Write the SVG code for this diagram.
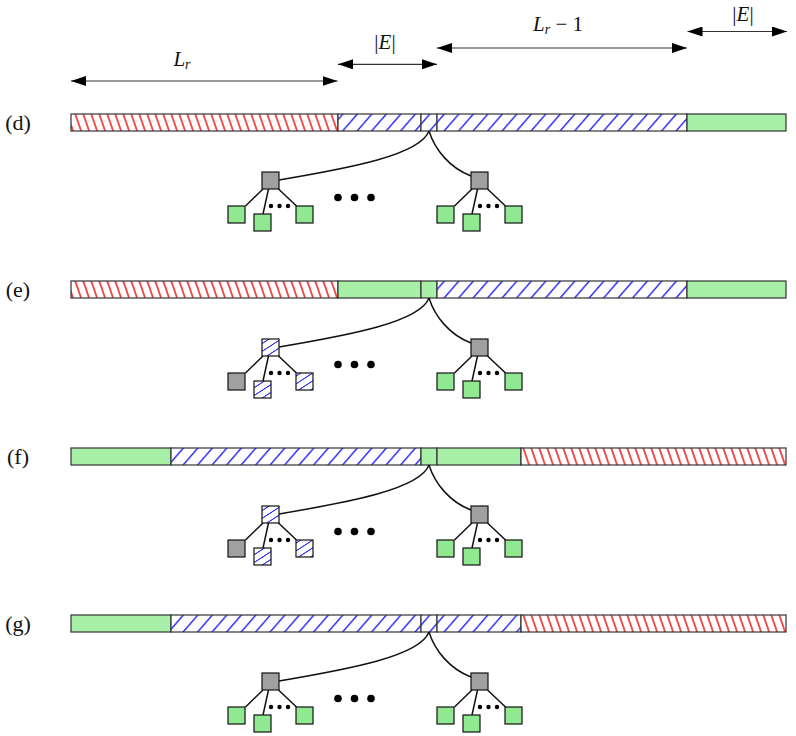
<svg xmlns="http://www.w3.org/2000/svg" width="796" height="736" viewBox="0 0 796 736">
<style>
text{font-family:"Liberation Serif","Times New Roman",serif;font-size:21px;fill:#111}
.lbl{font-size:22px}
.it{font-style:italic}
.seg{stroke:#333;stroke-width:1.2}
.g{fill:#a8f0a8}
.nd{stroke:#111;stroke-width:1.2}
.ng{fill:#90e890}
.ngr{fill:#a0a0a0}
.edge{fill:none;stroke:#111;stroke-width:1.5}
.dim{stroke:#333;stroke-width:1.2;fill:none}
</style>
<defs>
<pattern id="red" patternUnits="userSpaceOnUse" width="8" height="20" patternTransform="skewX(19)">
<rect width="8" height="20" fill="#fff"/>
<line x1="4" y1="0" x2="4" y2="20" stroke="#f53535" stroke-width="1.8"/>
</pattern>
<pattern id="blue" patternUnits="userSpaceOnUse" width="14.5" height="20" patternTransform="skewX(-41)">
<rect width="14.5" height="20" fill="#fff"/>
<line x1="7" y1="0" x2="7" y2="20" stroke="#3232f5" stroke-width="2"/>
</pattern>
<pattern id="nblue" patternUnits="userSpaceOnUse" width="12" height="20" patternTransform="skewX(-57)">
<rect width="12" height="20" fill="#fff"/>
<line x1="6" y1="0" x2="6" y2="20" stroke="#3232f5" stroke-width="2"/>
</pattern>
<marker id="ah" viewBox="0 0 15 10" refX="15" refY="5" markerWidth="15" markerHeight="10" markerUnits="userSpaceOnUse" orient="auto-start-reverse">
<path d="M0,0 L15,5 L0,10 Z" fill="#000"/>
</marker>
</defs>

<g id="dimensions">
<line class="dim" x1="71" y1="81" x2="337.5" y2="81" marker-start="url(#ah)" marker-end="url(#ah)"/>
<text x="182" y="66" text-anchor="middle"><tspan class="it">L</tspan><tspan class="it" font-size="14" dy="3">r</tspan></text>
<line class="dim" x1="338" y1="64.3" x2="437" y2="64.3" marker-start="url(#ah)" marker-end="url(#ah)"/>
<text x="385" y="49" text-anchor="middle">|<tspan class="it">E</tspan>|</text>
<line class="dim" x1="437" y1="48" x2="687" y2="48" marker-start="url(#ah)" marker-end="url(#ah)"/>
<text x="558" y="31" text-anchor="middle"><tspan class="it">L</tspan><tspan class="it" font-size="14" dy="3">r</tspan><tspan dy="-3"> − 1</tspan></text>
<line class="dim" x1="687.5" y1="31.5" x2="787" y2="31.5" marker-start="url(#ah)" marker-end="url(#ah)"/>
<text x="743" y="20.5" text-anchor="middle">|<tspan class="it">E</tspan>|</text>
</g>

<!-- panel (d) -->
<g id="panel-d">
<text class="lbl" x="18" y="130" text-anchor="middle">(d)</text>
<g id="bar-d">
<rect class="seg" x="71" y="114" width="267" height="17" fill="url(#red)"/>
<rect class="seg" x="338" y="114" width="83" height="17" fill="url(#blue)"/>
<rect class="seg" x="421" y="114" width="16" height="17" fill="url(#blue)"/>
<rect class="seg" x="437" y="114" width="250" height="17" fill="url(#blue)"/>
<rect class="seg g" x="687" y="114" width="99" height="17"/>
</g>
<g id="connectors-d">
<path class="edge" d="M279,180 C350,168 420,155 429,131"/>
<path class="edge" d="M429,131 C435,150 450,168 471,176"/>
<path class="edge" d="M263,189 L245.5,206 M268.5,189 L263,214 M278.5,189 L296.5,206"/>
<path class="edge" d="M472,189 L454.5,206 M477.5,189 L472,214 M487.5,189 L505.5,206"/>
</g>
<g id="d-l-root"><rect class="nd ngr" x="262" y="172" width="17" height="17"/></g>
<g id="d-l-c1"><rect class="nd ng" x="228" y="206" width="17" height="17"/></g>
<g id="d-l-c2"><rect class="nd ng" x="254" y="214" width="17" height="17"/></g>
<g id="d-l-c3"><rect class="nd ng" x="296" y="206" width="17" height="17"/></g>
<g id="d-r-root"><rect class="nd ngr" x="471" y="172" width="17" height="17"/></g>
<g id="d-r-c1"><rect class="nd ng" x="437" y="206" width="17" height="17"/></g>
<g id="d-r-c2"><rect class="nd ng" x="463" y="214" width="17" height="17"/></g>
<g id="d-r-c3"><rect class="nd ng" x="505" y="206" width="17" height="17"/></g>
<g id="d-dots" fill="#000">
<circle cx="271" cy="206" r="2.2"/><circle cx="279.5" cy="206" r="2.2"/><circle cx="288" cy="206" r="2.2"/>
<circle cx="480" cy="206" r="2.2"/><circle cx="488.5" cy="206" r="2.2"/><circle cx="497" cy="206" r="2.2"/>
<circle cx="338" cy="197.5" r="3.8"/><circle cx="354.5" cy="197.5" r="3.8"/><circle cx="371" cy="197.5" r="3.8"/>
</g>
</g>

<!-- panel (e) -->
<g id="panel-e" transform="translate(0,167)">
<text class="lbl" x="18" y="130" text-anchor="middle">(e)</text>
<g id="bar-e">
<rect class="seg" x="71" y="114" width="267" height="17" fill="url(#red)"/>
<rect class="seg g" x="338" y="114" width="83" height="17"/>
<rect class="seg g" x="421" y="114" width="16" height="17"/>
<rect class="seg" x="437" y="114" width="250" height="17" fill="url(#blue)"/>
<rect class="seg g" x="687" y="114" width="99" height="17"/>
</g>
<g id="connectors-e">
<path class="edge" d="M279,180 C350,168 420,155 429,131"/>
<path class="edge" d="M429,131 C435,150 450,168 471,176"/>
<path class="edge" d="M263,189 L245.5,206 M268.5,189 L263,214 M278.5,189 L296.5,206"/>
<path class="edge" d="M472,189 L454.5,206 M477.5,189 L472,214 M487.5,189 L505.5,206"/>
</g>
<g id="e-l-root"><rect class="nd" fill="url(#nblue)" x="262" y="172" width="17" height="17"/></g>
<g id="e-l-c1"><rect class="nd ngr" x="228" y="206" width="17" height="17"/></g>
<g id="e-l-c2"><rect class="nd" fill="url(#nblue)" x="254" y="214" width="17" height="17"/></g>
<g id="e-l-c3"><rect class="nd" fill="url(#nblue)" x="296" y="206" width="17" height="17"/></g>
<g id="e-r-root"><rect class="nd ngr" x="471" y="172" width="17" height="17"/></g>
<g id="e-r-c1"><rect class="nd ng" x="437" y="206" width="17" height="17"/></g>
<g id="e-r-c2"><rect class="nd ng" x="463" y="214" width="17" height="17"/></g>
<g id="e-r-c3"><rect class="nd ng" x="505" y="206" width="17" height="17"/></g>
<g id="e-dots" fill="#000">
<circle cx="271" cy="206" r="2.2"/><circle cx="279.5" cy="206" r="2.2"/><circle cx="288" cy="206" r="2.2"/>
<circle cx="480" cy="206" r="2.2"/><circle cx="488.5" cy="206" r="2.2"/><circle cx="497" cy="206" r="2.2"/>
<circle cx="338" cy="197.5" r="3.8"/><circle cx="354.5" cy="197.5" r="3.8"/><circle cx="371" cy="197.5" r="3.8"/>
</g>
</g>

<!-- panel (f) -->
<g id="panel-f" transform="translate(0,334)">
<text class="lbl" x="18" y="130" text-anchor="middle">(f)</text>
<g id="bar-f">
<rect class="seg g" x="71" y="114" width="100" height="17"/>
<rect class="seg" x="171" y="114" width="250" height="17" fill="url(#blue)"/>
<rect class="seg g" x="421" y="114" width="16" height="17"/>
<rect class="seg g" x="437" y="114" width="84" height="17"/>
<rect class="seg" x="521" y="114" width="265" height="17" fill="url(#red)"/>
</g>
<g id="connectors-f">
<path class="edge" d="M279,180 C350,168 420,155 429,131"/>
<path class="edge" d="M429,131 C435,150 450,168 471,176"/>
<path class="edge" d="M263,189 L245.5,206 M268.5,189 L263,214 M278.5,189 L296.5,206"/>
<path class="edge" d="M472,189 L454.5,206 M477.5,189 L472,214 M487.5,189 L505.5,206"/>
</g>
<g id="f-l-root"><rect class="nd" fill="url(#nblue)" x="262" y="172" width="17" height="17"/></g>
<g id="f-l-c1"><rect class="nd ngr" x="228" y="206" width="17" height="17"/></g>
<g id="f-l-c2"><rect class="nd" fill="url(#nblue)" x="254" y="214" width="17" height="17"/></g>
<g id="f-l-c3"><rect class="nd" fill="url(#nblue)" x="296" y="206" width="17" height="17"/></g>
<g id="f-r-root"><rect class="nd ngr" x="471" y="172" width="17" height="17"/></g>
<g id="f-r-c1"><rect class="nd ng" x="437" y="206" width="17" height="17"/></g>
<g id="f-r-c2"><rect class="nd ng" x="463" y="214" width="17" height="17"/></g>
<g id="f-r-c3"><rect class="nd ng" x="505" y="206" width="17" height="17"/></g>
<g id="f-dots" fill="#000">
<circle cx="271" cy="206" r="2.2"/><circle cx="279.5" cy="206" r="2.2"/><circle cx="288" cy="206" r="2.2"/>
<circle cx="480" cy="206" r="2.2"/><circle cx="488.5" cy="206" r="2.2"/><circle cx="497" cy="206" r="2.2"/>
<circle cx="338" cy="197.5" r="3.8"/><circle cx="354.5" cy="197.5" r="3.8"/><circle cx="371" cy="197.5" r="3.8"/>
</g>
</g>

<!-- panel (g) -->
<g id="panel-g" transform="translate(0,501)">
<text class="lbl" x="18" y="130" text-anchor="middle">(g)</text>
<g id="bar-g">
<rect class="seg g" x="71" y="114" width="100" height="17"/>
<rect class="seg" x="171" y="114" width="250" height="17" fill="url(#blue)"/>
<rect class="seg" x="421" y="114" width="16" height="17" fill="url(#blue)"/>
<rect class="seg" x="437" y="114" width="84" height="17" fill="url(#blue)"/>
<rect class="seg" x="521" y="114" width="265" height="17" fill="url(#red)"/>
</g>
<g id="connectors-g">
<path class="edge" d="M279,180 C350,168 420,155 429,131"/>
<path class="edge" d="M429,131 C435,150 450,168 471,176"/>
<path class="edge" d="M263,189 L245.5,206 M268.5,189 L263,214 M278.5,189 L296.5,206"/>
<path class="edge" d="M472,189 L454.5,206 M477.5,189 L472,214 M487.5,189 L505.5,206"/>
</g>
<g id="g-l-root"><rect class="nd ngr" x="262" y="172" width="17" height="17"/></g>
<g id="g-l-c1"><rect class="nd ng" x="228" y="206" width="17" height="17"/></g>
<g id="g-l-c2"><rect class="nd ng" x="254" y="214" width="17" height="17"/></g>
<g id="g-l-c3"><rect class="nd ng" x="296" y="206" width="17" height="17"/></g>
<g id="g-r-root"><rect class="nd ngr" x="471" y="172" width="17" height="17"/></g>
<g id="g-r-c1"><rect class="nd ng" x="437" y="206" width="17" height="17"/></g>
<g id="g-r-c2"><rect class="nd ng" x="463" y="214" width="17" height="17"/></g>
<g id="g-r-c3"><rect class="nd ng" x="505" y="206" width="17" height="17"/></g>
<g id="g-dots" fill="#000">
<circle cx="271" cy="206" r="2.2"/><circle cx="279.5" cy="206" r="2.2"/><circle cx="288" cy="206" r="2.2"/>
<circle cx="480" cy="206" r="2.2"/><circle cx="488.5" cy="206" r="2.2"/><circle cx="497" cy="206" r="2.2"/>
<circle cx="338" cy="197.5" r="3.8"/><circle cx="354.5" cy="197.5" r="3.8"/><circle cx="371" cy="197.5" r="3.8"/>
</g>
</g>
</svg>
